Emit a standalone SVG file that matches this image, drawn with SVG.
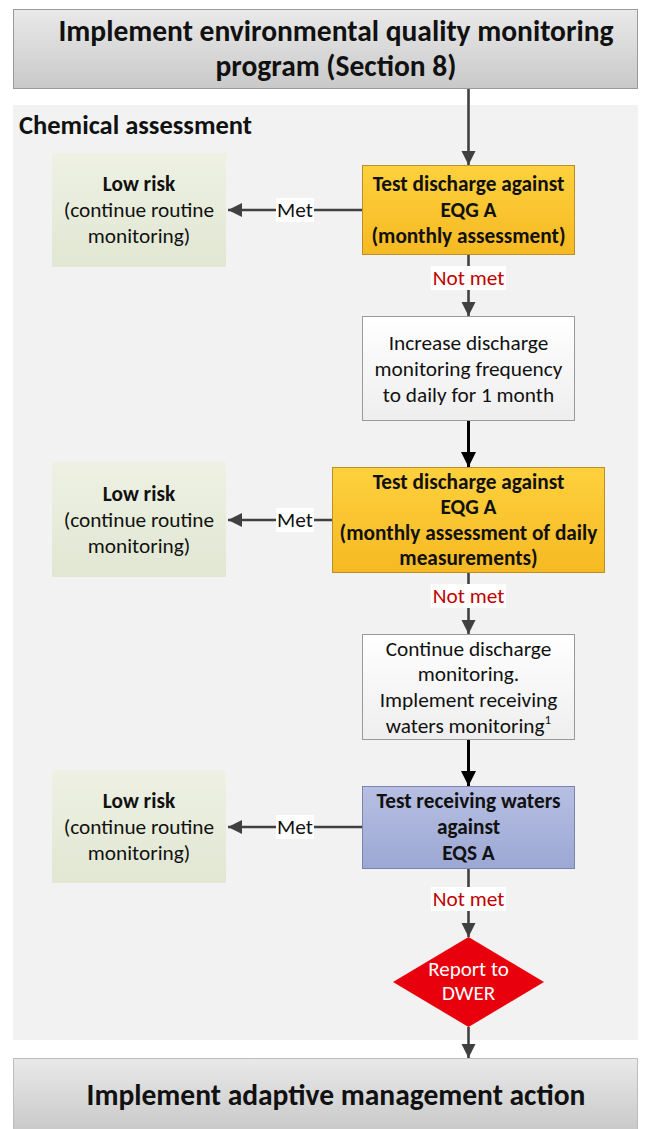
<svg xmlns="http://www.w3.org/2000/svg" width="648" height="1129" viewBox="0 0 648 1129">
  <defs>
    <linearGradient id="gHead" x1="0" y1="0" x2="0" y2="1">
      <stop offset="0" stop-color="#e9e9e9"/>
      <stop offset="1" stop-color="#c9c9c9"/>
    </linearGradient>
    <linearGradient id="gLow" x1="0" y1="0" x2="0" y2="1">
      <stop offset="0" stop-color="#eef1e3"/>
      <stop offset="1" stop-color="#e1e7d3"/>
    </linearGradient>
    <linearGradient id="gOrange" x1="0" y1="0" x2="0" y2="1">
      <stop offset="0" stop-color="#fdd13d"/>
      <stop offset="1" stop-color="#f6b923"/>
    </linearGradient>
    <linearGradient id="gWhite" x1="0" y1="0" x2="0" y2="1">
      <stop offset="0" stop-color="#ffffff"/>
      <stop offset="1" stop-color="#eeeeee"/>
    </linearGradient>
    <linearGradient id="gBlue" x1="0" y1="0" x2="0" y2="1">
      <stop offset="0" stop-color="#b7bfe2"/>
      <stop offset="1" stop-color="#9ca8d4"/>
    </linearGradient>
    <marker id="ahGray" viewBox="0 0 10 10" refX="10" refY="5" markerWidth="5.5" markerHeight="5.5" markerUnits="strokeWidth" orient="auto">
      <path d="M0,0 L10,5 L0,10 z" fill="#404040"/>
    </marker>
    <marker id="ahBlack" viewBox="0 0 10 10" refX="10" refY="5" markerWidth="5" markerHeight="5" markerUnits="strokeWidth" orient="auto">
      <path d="M0,0 L10,5 L0,10 z" fill="#000000"/>
    </marker>
  </defs>
  <style>
    text { font-family: Carlito, Lato, "Open Sans", sans-serif; text-anchor: middle; fill: #111; }
    .title { font-size: 29.5px; font-weight: bold; }
    .section { font-size: 26.5px; font-weight: bold; text-anchor: start; }
    .b { font-size: 21.3px; font-weight: bold; }
    .r { font-size: 21.3px; }
    .lbl { font-size: 21.3px; }
    .nm { font-size: 21.3px; fill: #c00000; }
    .dw { font-size: 21px; fill: #ffffff; }
    .conn { stroke: #404040; stroke-width: 2.6; fill: none; marker-end: url(#ahGray); }
    .connK { stroke: #000; stroke-width: 3; fill: none; marker-end: url(#ahBlack); }
    .plain { stroke: #404040; stroke-width: 2.6; fill: none; }
  </style>

  <rect width="648" height="1129" fill="#ffffff"/>

  <!-- background panel -->
  <rect id="panel" x="13" y="105" width="625" height="935" fill="#f2f2f2"/>
  <text class="section" x="19" y="134">Chemical assessment</text>

  <!-- connectors -->
  <g id="connectors">
    <line class="conn" x1="468.5" y1="88" x2="468.5" y2="165"/>
    <line class="conn" x1="362" y1="210" x2="228" y2="210"/>
    <line class="plain" x1="468.5" y1="255" x2="468.5" y2="268"/>
    <line class="conn" x1="468.5" y1="288" x2="468.5" y2="316"/>
    <line class="connK" x1="468.5" y1="421" x2="468.5" y2="467"/>
    <line class="conn" x1="332" y1="520" x2="228" y2="520"/>
    <line class="plain" x1="468.5" y1="573" x2="468.5" y2="586"/>
    <line class="conn" x1="468.5" y1="606" x2="468.5" y2="634"/>
    <line class="connK" x1="468.5" y1="740" x2="468.5" y2="786"/>
    <line class="conn" x1="362" y1="827" x2="228" y2="827"/>
    <line class="plain" x1="468.5" y1="869" x2="468.5" y2="889"/>
    <line class="conn" x1="468.5" y1="909" x2="468.5" y2="937"/>
    <line class="conn" x1="468.5" y1="1027" x2="468.5" y2="1058"/>
    <!-- edge labels -->
    <rect x="276" y="198" width="38" height="24" fill="#fff"/>
    <text class="lbl" x="295" y="217">Met</text>
    <rect x="276" y="508" width="38" height="24" fill="#fff"/>
    <text class="lbl" x="295" y="527">Met</text>
    <rect x="276" y="815" width="38" height="24" fill="#fff"/>
    <text class="lbl" x="295" y="834">Met</text>
    <rect x="431" y="266" width="75" height="24" fill="#fff"/>
    <text class="nm" x="468.5" y="285">Not met</text>
    <rect x="431" y="584" width="75" height="24" fill="#fff"/>
    <text class="nm" x="468.5" y="603">Not met</text>
    <rect x="431" y="887" width="75" height="24" fill="#fff"/>
    <text class="nm" x="468.5" y="906">Not met</text>
  </g>

  <!-- top header -->
  <g id="start">
    <rect x="13.5" y="9.5" width="624" height="79" fill="url(#gHead)" stroke="#9a9a9a"/>
    <text class="title" x="336" y="41">Implement environmental quality monitoring</text>
    <text class="title" x="336" y="76">program (Section 8)</text>
  </g>

  <g id="test1">
    <rect x="362.5" y="165.5" width="212" height="89" fill="url(#gOrange)" stroke="#b98f2a"/>
    <text class="b" x="468.5" y="191">Test discharge against</text>
    <text class="b" x="468.5" y="217">EQG A</text>
    <text class="b" x="468.5" y="243">(monthly assessment)</text>
  </g>

  <g id="low1">
    <rect x="52" y="153" width="174" height="114" fill="url(#gLow)"/>
    <text class="b" x="139" y="191">Low risk</text>
    <text class="r" x="139" y="217">(continue routine</text>
    <text class="r" x="139" y="243">monitoring)</text>
  </g>

  <g id="increase">
    <rect x="362.5" y="316.5" width="212" height="104" fill="url(#gWhite)" stroke="#9a9a9a"/>
    <text class="r" x="468.5" y="350">Increase discharge</text>
    <text class="r" x="468.5" y="376">monitoring frequency</text>
    <text class="r" x="468.5" y="402">to daily for 1 month</text>
  </g>

  <g id="test2">
    <rect x="332.5" y="467.5" width="272" height="105" fill="url(#gOrange)" stroke="#b98f2a"/>
    <text class="b" x="468.5" y="489">Test discharge against</text>
    <text class="b" x="468.5" y="514">EQG A</text>
    <text class="b" x="468.5" y="540">(monthly assessment of daily</text>
    <text class="b" x="468.5" y="565">measurements)</text>
  </g>

  <g id="low2">
    <rect x="52" y="462" width="174" height="115" fill="url(#gLow)"/>
    <text class="b" x="139" y="501">Low risk</text>
    <text class="r" x="139" y="527">(continue routine</text>
    <text class="r" x="139" y="553">monitoring)</text>
  </g>

  <g id="continue">
    <rect x="362.5" y="634.5" width="212" height="105" fill="url(#gWhite)" stroke="#9a9a9a"/>
    <text class="r" x="468.5" y="656">Continue discharge</text>
    <text class="r" x="468.5" y="681">monitoring.</text>
    <text class="r" x="468.5" y="707">Implement receiving</text>
    <text class="r" x="468.5" y="733">waters monitoring<tspan font-size="13" dy="-9">1</tspan></text>
  </g>

  <g id="test3">
    <rect x="362.5" y="786.5" width="212" height="82" fill="url(#gBlue)" stroke="#7a84ad"/>
    <text class="b" x="468.5" y="808">Test receiving waters</text>
    <text class="b" x="468.5" y="834">against</text>
    <text class="b" x="468.5" y="860">EQS A</text>
  </g>

  <g id="low3">
    <rect x="52" y="770" width="174" height="113" fill="url(#gLow)"/>
    <text class="b" x="139" y="808">Low risk</text>
    <text class="r" x="139" y="834">(continue routine</text>
    <text class="r" x="139" y="860">monitoring)</text>
  </g>

  <g id="report">
    <polygon points="468.5,937 544,982 468.5,1027 393,982" fill="#e8000c"/>
    <text class="dw" x="468.5" y="976">Report to</text>
    <text class="dw" x="468.5" y="1000">DWER</text>
  </g>

  <g id="end">
    <rect x="13.5" y="1058.5" width="624" height="72" fill="url(#gHead)" stroke="#bdbdbd"/>
    <text class="title" x="336" y="1105">Implement adaptive management action</text>
  </g>
</svg>
